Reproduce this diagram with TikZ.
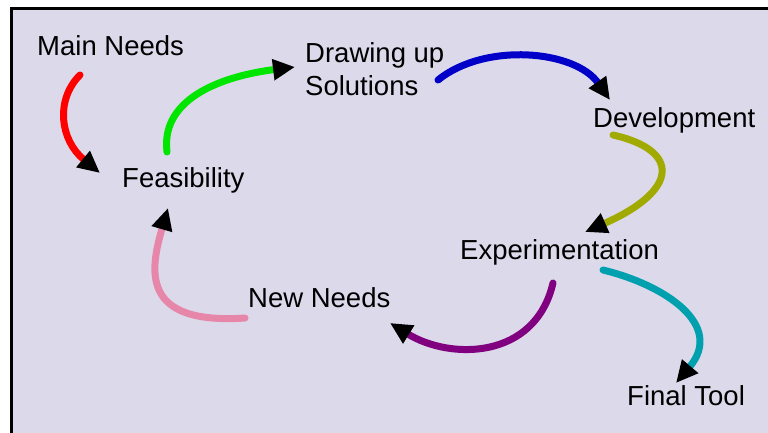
\documentclass[tikz,border=0pt]{standalone}
\usepackage{fontspec}
\setmainfont{Liberation Sans}
\usepackage{xcolor}
\usetikzlibrary{arrows.meta}
\definecolor{fondo}{RGB}{220,217,234}
\definecolor{rojo}{RGB}{255,0,0}
\definecolor{verde}{RGB}{0,230,0}
\definecolor{azul}{RGB}{0,0,200}
\definecolor{oliva}{RGB}{160,170,0}
\definecolor{turquesa}{RGB}{0,160,175}
\definecolor{morado}{RGB}{128,0,128}
\definecolor{rosa}{RGB}{230,135,170}
\tikzset{
  etapa/.style = {anchor=base west, inner sep=0pt, align=left,
                  font=\fontsize{27.5}{33}\selectfont},
  curva/.style = {line width=7pt, line cap=round,
                  -{Triangle[length=22pt,width=20pt,color=black]}},
  marco/.style = {draw=black, line width=3.5pt, fill=fondo},
}

\begin{document}
\begin{tikzpicture}[x=1pt,y=-1pt]
    \useasboundingbox (0,0) rectangle (768,432);
    \clip (0,0) rectangle (768,432);
    \fill[white] (0,0) rectangle (768,432);
    \draw[marco] (11.7,8.3) rectangle (800,460);

    % --- etapas
    \node[etapa] (main)  at (37,55)   {Main Needs};
    \node[etapa] (feas)  at (122,187) {Feasibility};
    \node[etapa] (draw)  at (305,95)  {Drawing up\\Solutions};
    \node[etapa] (dev)   at (593,127) {Development};
    \node[etapa] (exp)   at (460,259) {Experimentation};
    \node[etapa] (new)   at (248,307) {New Needs};
    \node[etapa] (final) at (627,405) {Final Tool};

    % --- curvas
    \draw[curva, rojo] ([shift={(43,20)}]main.base west)
      .. controls +(-25,25) and +(-40,-33) .. ([shift={(-22,-14)}]feas.base west);
    \draw[curva, verde] ([shift={(45,-35)}]feas.base west)
      .. controls +(-7,-57) and +(-65,8) .. ([shift={(-10,-28)}]draw.base west);
    \draw[curva, azul] ([shift={(133,-15)}]draw.base west)
      .. controls +(47,-38) and +(-35,-50) .. ([shift={(17,-27)}]dev.base west);
    \draw[curva, oliva] ([shift={(20,8)}]dev.base west)
      .. controls +(67,15) and +(95,-42) .. ([shift={(125,-27)}]exp.base west);
    \draw[curva, turquesa] ([shift={(143,11)}]exp.base west)
      .. controls +(62,15) and +(49,-58) .. ([shift={(49,-22)}]final.base west);
    \draw[curva, morado] ([shift={(93,24)}]exp.base west)
      .. controls +(-18,77) and +(60,37) .. ([shift={(142,16)}]new.base west);
    \draw[curva, rosa] ([shift={(-3,11)}]new.base west)
      .. controls +(-105,7) and +(-18,62) .. ([shift={(46,21)}]feas.base west);
\end{tikzpicture}
\end{document}
